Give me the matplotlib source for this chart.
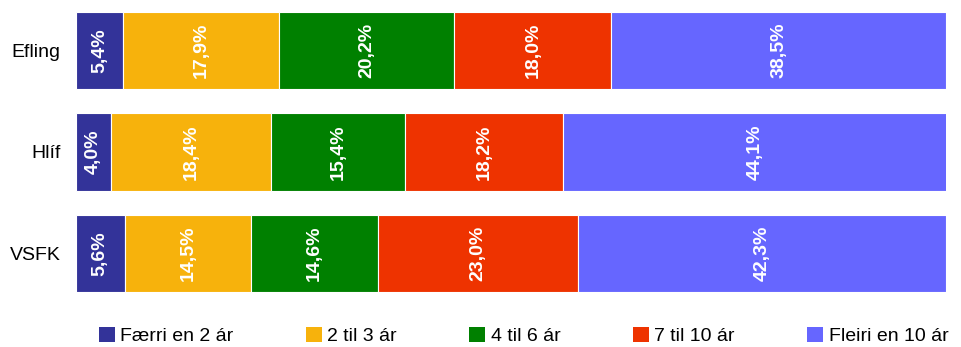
import matplotlib
matplotlib.use("Agg")
import matplotlib.pyplot as plt
from matplotlib.patches import Patch
import numpy as np

plt.rcParams['font.family'] = ['Liberation Sans Narrow', 'Liberation Sans', 'DejaVu Sans']

categories = ["Efling", "Hlíf", "VSFK"]
series_names = ["Færri en 2 ár", "2 til 3 ár", "4 til 6 ár", "7 til 10 ár", "Fleiri en 10 ár"]
faerri = [5.4, 4.0, 5.6]
tveir_thrir = [17.9, 18.4, 14.5]
fjorir_sex = [20.2, 15.4, 14.6]
sjo_tiu = [18.0, 18.2, 23.0]
fleiri = [38.5, 44.1, 42.3]
colors = ["#333399", "#F7B20C", "#008000", "#EE3300", "#6666FF"]

values = [faerri, tveir_thrir, fjorir_sex, sjo_tiu, fleiri]

fig = plt.figure(figsize=(9.61, 3.47), dpi=100)
ax = fig.add_axes([76/961, 1-292/347, 870/961, 280/347])

y = np.arange(len(categories))
left = np.zeros(len(categories))
for name, vals, c in zip(series_names, values, colors):
    vals = np.array(vals)
    ax.barh(y, vals, left=left, height=0.76, color=c, edgecolor="white", linewidth=0.8, label=name)
    for yi, l, v in zip(y, left, vals):
        ax.text(l + v/2, yi, f"{v:.1f}%".replace(".", ","), rotation=90, ha="center", va="center",
                color="white", fontsize=14, fontweight="bold")
    left += vals

ax.set_xlim(0, 100)
ax.set_ylim(2.38, -0.38)
ax.set_yticks(y)
ax.set_yticklabels(categories, fontsize=14)
ax.tick_params(axis="y", length=0, pad=11)
ax.set_xticks([])
for s in ax.spines.values():
    s.set_visible(False)

handles = [Patch(facecolor=c, edgecolor="none") for c in colors]
fig.legend(handles, series_names, loc="lower left", bbox_to_anchor=(0.095, -0.018, 0.9, 0.1),
           ncol=5, mode="expand", frameon=False, fontsize=14, handlelength=0.8, handleheight=0.8,
           handletextpad=0.3, borderaxespad=0)

fig.savefig("out.png", dpi=100)
